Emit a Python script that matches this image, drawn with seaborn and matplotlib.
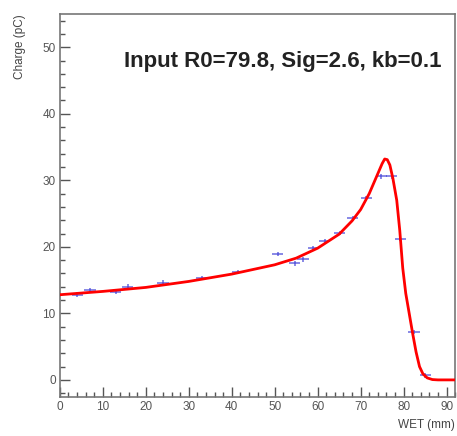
import matplotlib
matplotlib.use("Agg")
import matplotlib.pyplot as plt
from matplotlib.ticker import MultipleLocator
import seaborn as sns
import pandas as pd

# measured points (WET in mm, charge in pC)
wet = [4.1, 7.0, 13.0, 15.8, 24.0, 33.0, 41.4, 50.7, 54.7, 56.6, 59.0, 61.6,
       65.1, 68.2, 71.3, 74.8, 77.2, 79.2, 82.4, 85.0]
charge = [12.8, 13.5, 13.2, 14.0, 14.6, 15.3, 16.2, 18.9, 17.5, 18.1, 19.8, 20.9,
          22.1, 24.3, 27.3, 30.6, 30.6, 21.2, 7.2, 0.7]
wet_err = [1.3] * len(wet)
charge_err = [0.35] * len(wet)

# fitted curve
fit_wet = [0, 10, 20, 30, 40, 50, 55, 60, 65, 68, 70, 72, 73, 74, 75, 75.6,
           76.2, 76.8, 77.5, 78.4, 79.1, 79.8, 80.5, 81.3, 82.1, 82.9, 83.7,
           84.5, 85.5, 86.7, 88, 92]
fit_charge = [12.8, 13.3, 13.9, 14.8, 15.9, 17.3, 18.3, 19.8, 21.9, 23.9, 25.6,
              28.0, 29.5, 31.0, 32.5, 33.2, 33.1, 32.3, 30.3, 27.0, 22.5, 16.8,
              13.0, 10.0, 7.0, 4.2, 2.0, 0.9, 0.3, 0.05, 0.0, 0.0]

fit = pd.DataFrame({"wet": fit_wet, "charge": fit_charge})

sns.set_style("ticks")
plt.rcParams["font.family"] = ["Liberation Sans", "DejaVu Sans"]

fig = plt.figure(figsize=(4.57, 4.36), dpi=100)
ax = fig.add_axes([0.131, 0.089, 0.865, 0.879])

ax.errorbar(wet, charge, xerr=wet_err, yerr=charge_err, fmt="none",
            ecolor="#4646d8", elinewidth=1.2, capsize=0, alpha=0.75, zorder=2)
sns.lineplot(data=fit, x="wet", y="charge", color="red", linewidth=2.0,
             sort=False, ax=ax, zorder=3)

ax.set_xlim(0, 92)
ax.set_ylim(-2.6, 55)
ax.xaxis.set_major_locator(MultipleLocator(10))
ax.xaxis.set_minor_locator(MultipleLocator(2))
ax.yaxis.set_major_locator(MultipleLocator(10))
ax.yaxis.set_minor_locator(MultipleLocator(2))

grey = "#555555"
ax.tick_params(which="both", direction="in", colors=grey, labelcolor=grey,
               labelsize=8.5, width=1.0)
ax.tick_params(which="major", length=7)
ax.tick_params(which="minor", length=3.5)
ax.tick_params(axis="y", pad=3)
ax.tick_params(axis="x", pad=3)
for s in ax.spines.values():
    s.set_color("#777777")
    s.set_linewidth(1.2)

ax.set_xlabel("WET (mm)", loc="right", fontsize=8.5, color="#444444", labelpad=4)
ax.set_ylabel("Charge (pC)", loc="top", fontsize=8.5, color="#444444", labelpad=12)

ax.text(0.965, 0.875, "Input R0=79.8, Sig=2.6, kb=0.1", transform=ax.transAxes,
        ha="right", va="center", fontsize=16, fontweight="bold", color="#222222")

fig.savefig("out.png", dpi=100)
